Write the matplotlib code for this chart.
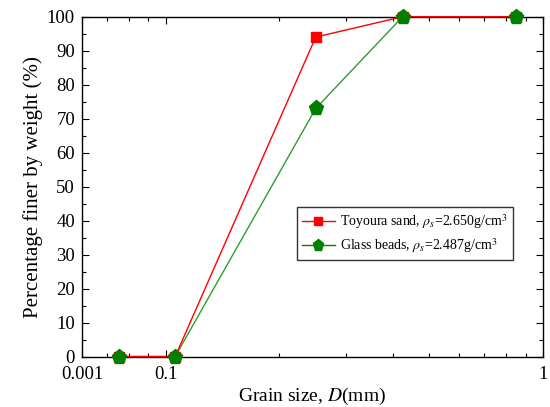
import numpy as np
import matplotlib
matplotlib.use('Agg')
from matplotlib import pyplot as plt
from matplotlib.ticker import FixedLocator, NullFormatter

plt.rcParams['font.family'] = 'Liberation Serif'
plt.rcParams['mathtext.fontset'] = 'stix'

# grain size (mm) and percentage finer by weight
grain_size = [0.075, 0.106, 0.25, 0.425, 0.85]
toyoura = [0, 0, 94, 100, 100]
glass = [0, 0, 73, 100, 100]

xtick_pos = [0.06, 0.1, 1]
xtick_labels = ['0.001', '0.1', '1']

red = '#ff0000'
green = '#007f00'

fig = plt.figure(figsize=(5.5, 4.07), dpi=100)
ax = fig.add_axes([0.149, 0.124, 0.838, 0.835])

ax.plot(grain_size, glass, '-', color='#2e9e2e', lw=1, zorder=2, clip_on=False)
ax.plot(grain_size, toyoura, '-s', color=red, lw=1, ms=7.5, zorder=3, clip_on=False,
        label=r'Toyoura sand, $\rho_{s}$=2.650g/cm$^3$')
ax.plot(grain_size, glass, 'p', color=green, ms=11, zorder=4, clip_on=False)
# legend proxy for glass beads (line + marker)
ax.plot([], [], '-p', color=green, lw=1, ms=11,
        label=r'Glass beads, $\rho_{s}$=2.487g/cm$^3$')

ax.set_xscale('log')
ax.set_xlim(0.06, 1)
ax.set_ylim(0, 100)
ax.xaxis.set_major_locator(FixedLocator(xtick_pos))
ax.set_xticklabels(xtick_labels)
ax.xaxis.set_minor_locator(FixedLocator([0.07, 0.08, 0.09] + list(np.arange(0.2, 1.0, 0.1))))
ax.xaxis.set_minor_formatter(NullFormatter())
ax.set_yticks(np.arange(0, 101, 10))
ax.set_yticks(np.arange(5, 100, 10), minor=True)

ax.tick_params(which='both', direction='in', top=True, right=True, labelsize=13.5,
               width=0.8)
ax.tick_params(axis='y', pad=5)
ax.tick_params(axis='x', pad=7)
ax.tick_params(which='major', length=5)
ax.tick_params(which='minor', length=3)
for s in ax.spines.values():
    s.set_linewidth(1)

ax.set_xlabel(r'Grain size, $D$(mm)', fontsize=14, labelpad=2)
ax.set_ylabel('Percentage finer by weight (%)', fontsize=15, labelpad=3)

leg = ax.legend(loc='upper left', bbox_to_anchor=(0.466, 0.439), fontsize=10,
                frameon=True, fancybox=False, edgecolor='black', handlelength=2.4,
                handletextpad=0.4, borderpad=0.35, labelspacing=0.35,
                borderaxespad=0, markerscale=0.75)
leg.get_frame().set_linewidth(1)

fig.savefig('out.png', dpi=100)
